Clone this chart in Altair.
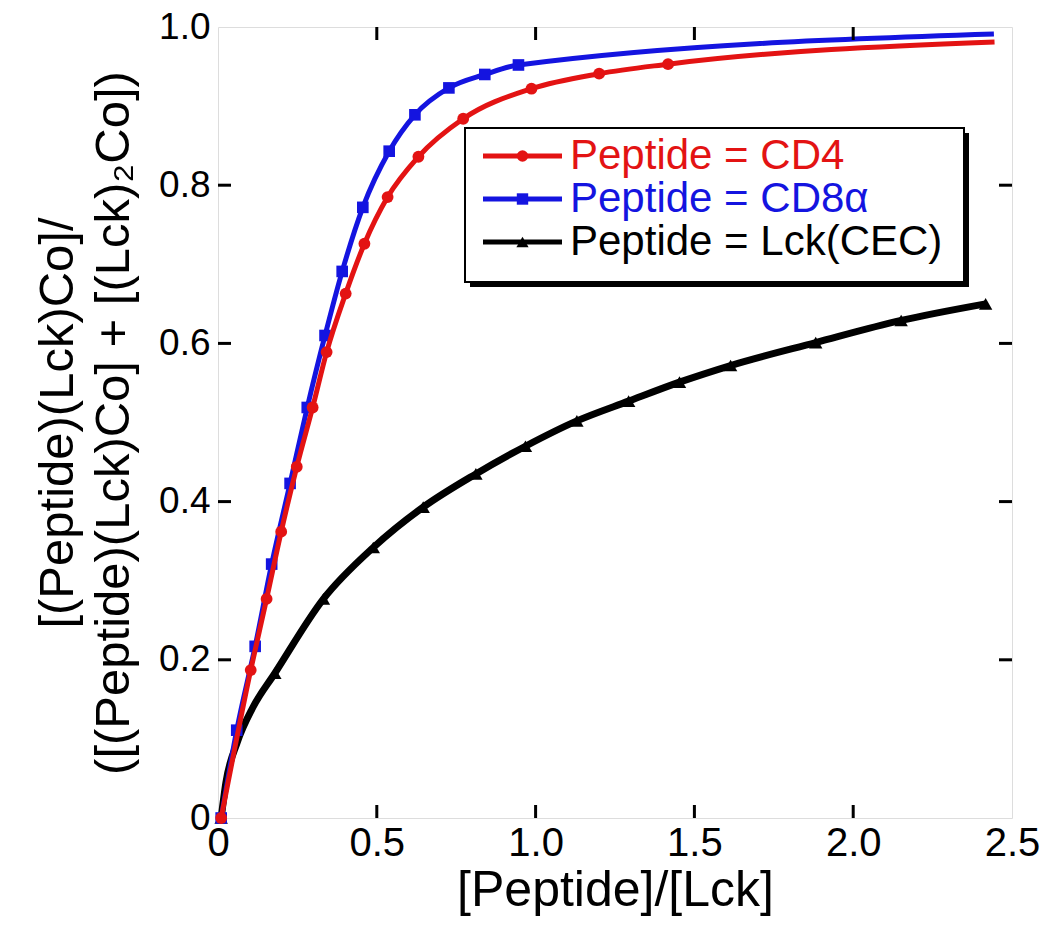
import altair as alt
import pandas as pd

# ---- data ----
cd4_x = [0.01, 0.103, 0.153, 0.199, 0.248, 0.298, 0.342, 0.402, 0.461, 0.534, 0.631, 0.772, 0.987, 1.200, 1.417, 2.445]
cd4_y = [0.0, 0.187, 0.277, 0.362, 0.444, 0.519, 0.589, 0.663, 0.726, 0.785, 0.836, 0.884, 0.922, 0.941, 0.953, 0.981]
cd4_marker = [True] * 15 + [False]

cd8_x = [0.01, 0.059, 0.117, 0.169, 0.227, 0.281, 0.337, 0.391, 0.456, 0.539, 0.620, 0.727, 0.840, 0.946, 2.443]
cd8_y = [0.0, 0.111, 0.217, 0.321, 0.423, 0.519, 0.610, 0.691, 0.772, 0.843, 0.889, 0.923, 0.940, 0.952, 0.991]
cd8_marker = [True] * 14 + [False]

lck_x = [0.01, 0.025, 0.06, 0.11, 0.179, 0.332, 0.489, 0.646, 0.812, 0.968, 1.130, 1.293, 1.453, 1.614, 1.882, 2.151, 2.417]
lck_y = [0.0, 0.045, 0.095, 0.140, 0.183, 0.277, 0.342, 0.393, 0.435, 0.470, 0.502, 0.527, 0.551, 0.572, 0.601, 0.629, 0.650]
lck_marker = [True, False, False, False] + [True] * 13

legend_labels = ["Peptide = CD4", "Peptide = CD8\u03b1", "Peptide = Lck(CEC)"]
x_ticks = [0, 0.5, 1.0, 1.5, 2.0, 2.5]
y_ticks = [0, 0.2, 0.4, 0.6, 0.8, 1.0]
x_inner_ticks = [0.5, 1.0, 1.5, 2.0]
y_inner_ticks = [0.2, 0.4, 0.6, 0.8]

RED = "#e31313"
BLUE = "#1414e0"
BLACK = "#000000"
FONT = "Liberation Sans, Arial, Helvetica, sans-serif"

W, H = 794, 791
TOP = 19

xscale = alt.Scale(domain=[0, 2.5], nice=False, zero=False)
yscale = alt.Scale(domain=[0, 1.0], nice=False, zero=False)

x_axis = alt.Axis(
    values=x_ticks, labelExpr="datum.value == 0 ? '0' : format(datum.value, '.1f')",
    ticks=False, domain=False, grid=False, labelFontSize=40, labelFont=FONT,
    labelColor="black", labelPadding=5, labelFlush=False,
    title="[Peptide]/[Lck]", titleFont=FONT, titleFontSize=50, titleFontWeight="normal",
    titleColor="black", titlePadding=2,
)
y_axis = alt.Axis(
    values=y_ticks, labelExpr="datum.value == 0 ? '0' : format(datum.value, '.1f')",
    ticks=False, domain=False, grid=False, labelFontSize=37, labelFont=FONT,
    labelColor="black", labelPadding=8, labelFlush=False,
    title=["[(Peptide)(Lck)Co]/", "([(Peptide)(Lck)Co] + [(Lck)\u2082Co])"],
    titleFont=FONT, titleFontSize=49, titleFontWeight="normal", titleColor="black",
    titlePadding=20, titleLineHeight=56,
)

X = alt.X("x:Q", scale=xscale, axis=x_axis)
Y = alt.Y("y:Q", scale=yscale, axis=y_axis)


def series(xs, ys, marks, color, width, shape, size):
    df = pd.DataFrame({"x": xs, "y": ys, "marker": marks})
    line = alt.Chart(df).mark_line(color=color, strokeWidth=width, interpolate="monotone").encode(x=X, y=Y)
    pts = (
        alt.Chart(df)
        .transform_filter("datum.marker")
        .mark_point(shape=shape, filled=True, color=color, size=size, opacity=1)
        .encode(x=X, y=Y)
    )
    return [line, pts]


layers = []
layers += series(lck_x, lck_y, lck_marker, BLACK, 7, "triangle-up", 180)
layers += series(cd8_x, cd8_y, cd8_marker, BLUE, 5, "square", 135)
layers += series(cd4_x, cd4_y, cd4_marker, RED, 5, "circle", 140)

# inward ticks
xt = pd.DataFrame({"x": x_inner_ticks})
yt = pd.DataFrame({"y": y_inner_ticks})
TL = 13
layers.append(alt.Chart(xt).mark_rule(color="black", strokeWidth=3).encode(x=X, y=alt.value(H), y2=alt.value(H - TL)))
layers.append(alt.Chart(xt).mark_rule(color="black", strokeWidth=3).encode(x=X, y=alt.value(0), y2=alt.value(TL)))
layers.append(alt.Chart(yt).mark_rule(color="black", strokeWidth=3).encode(y=Y, x=alt.value(0), x2=alt.value(TL)))
layers.append(alt.Chart(yt).mark_rule(color="black", strokeWidth=3).encode(y=Y, x=alt.value(W), x2=alt.value(W - TL)))

# legend (manual)
one = pd.DataFrame({"k": [0]})
bx0, bx1, by0, by1 = 247, 746, 101, 255
layers.append(alt.Chart(one).mark_rect(color="black").encode(
    x=alt.value(bx0 + 5), x2=alt.value(bx1 + 5), y=alt.value(by0 + 5), y2=alt.value(by1 + 5)))
layers.append(alt.Chart(one).mark_rect(fill="white", stroke="black", strokeWidth=2).encode(
    x=alt.value(bx0), x2=alt.value(bx1), y=alt.value(by0), y2=alt.value(by1)))

leg_colors = [RED, BLUE, BLACK]
leg_shapes = ["circle", "square", "triangle-up"]
leg_sizes = [130, 130, 150]
leg_rows = [129, 172, 215]
for lab, col, shp, sz, ry in zip(legend_labels, leg_colors, leg_shapes, leg_sizes, leg_rows):
    layers.append(alt.Chart(one).mark_rule(color=col, strokeWidth=5).encode(
        x=alt.value(265), x2=alt.value(344), y=alt.value(ry)))
    layers.append(alt.Chart(one).mark_point(shape=shp, filled=True, color=col, size=sz, opacity=1).encode(
        x=alt.value(304.5), y=alt.value(ry)))
    layers.append(alt.Chart(pd.DataFrame({"label": [lab]})).mark_text(
        align="left", baseline="middle", fontSize=42, font=FONT, color=col).encode(
        x=alt.value(352), y=alt.value(ry), text="label:N"))

chart = (
    alt.layer(*layers)
    .properties(
        width=W, height=H,
        autosize=alt.AutoSizeParams(type="none"),
        padding={"left": 210, "top": TOP, "right": 30, "bottom": 104},
    )
    .configure_view(stroke="black", strokeWidth=3)
    .configure(background="white")
)

chart.save("out.html", embed_options={"renderer": "svg", "actions": False})
